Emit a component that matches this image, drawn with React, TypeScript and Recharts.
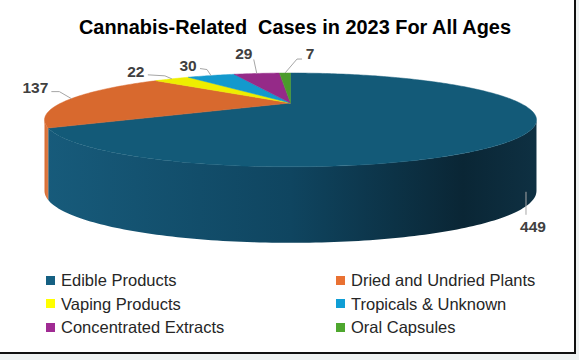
import React from 'react';
import { PieChart, Pie, Legend } from 'recharts';

const CATEGORIES = [
  'Edible Products',
  'Dried and Undried Plants',
  'Vaping Products',
  'Tropicals & Unknown',
  'Concentrated Extracts',
  'Oral Capsules',
];
const CASES = [449, 137, 22, 30, 29, 7];

const COLORS = ['#156082', '#E97132', '#FFFF00', '#0F9ED5', '#A02B93', '#4EA72E'];
const TOP_COLORS = ['#135a78', '#d8692e', '#eeee00', '#1399cd', '#952a88', '#4a9b2c'];

// 3d look: perspective squash of the top face + a wall below it
const TILT = 40.8;
const PERSP = 0.361;

// leader line points + text centre, relative to the rim point at the slice's mid angle
const LABEL_LAYOUT: { line: number[][]; text: number[] }[] = [
  { line: [[-7, 64], [-7, 87]], text: [0, 99] },
  { line: [[0, 0], [-12, -7], [-20, -7]], text: [-36, -11] },
  { line: [[0, 0], [-7, -3], [-24, -4]], text: [-36, -7] },
  { line: [[0, 0], [-4, -6], [-11, -7]], text: [-23, -10] },
  { line: [[0, 0], [-3, -14]], text: [-13, -20] },
  { line: [[0, 0], [12, -14], [17, -14]], text: [25, -20] },
];

const data = CATEGORIES.map((name, i) => ({ name, value: CASES[i] }));

const proj = (cx: number, cy: number, r: number, deg: number) => {
  const a = (deg * Math.PI) / 180;
  const den = 1 + PERSP * Math.sin(a);
  return [cx + (r * Math.cos(a)) / den, cy - (TILT * Math.sin(a)) / den];
};

// wall is a bit taller at the front than at the sides
const depthAt = (deg: number) => 68 + 8 * Math.max(0, -Math.sin((deg * Math.PI) / 180));

const arcPoints = (cx: number, cy: number, r: number, from: number, to: number) => {
  const pts: number[][] = [];
  const steps = Math.max(2, Math.ceil(Math.abs(to - from)));
  for (let i = 0; i <= steps; i++) {
    pts.push(proj(cx, cy, r, from + ((to - from) * i) / steps));
  }
  return pts;
};

const toPath = (pts: number[][]) =>
  pts.map((p, i) => `${i ? 'L' : 'M'}${p[0].toFixed(2)},${p[1].toFixed(2)}`).join(' ') + ' Z';

const Slice3D = (props: any) => {
  const { cx, cy, outerRadius, startAngle, endAngle, midAngle, index } = props;
  const r = outerRadius;
  const visLo = 180 + (Math.asin(PERSP) * 180) / Math.PI;
  const visHi = 360 - (Math.asin(PERSP) * 180) / Math.PI;
  const lo = Math.min(startAngle, endAngle);
  const hi = Math.max(startAngle, endAngle);

  const walls: React.ReactNode[] = [];
  [-360, 0, 360].forEach((shift) => {
    const a = Math.max(lo, visLo + shift);
    const b = Math.min(hi, visHi + shift);
    if (a < b) {
      const steps = Math.max(2, Math.ceil(b - a));
      const top: number[][] = [];
      const bottom: number[][] = [];
      for (let i = 0; i <= steps; i++) {
        const d = a + ((b - a) * i) / steps;
        const p = proj(cx, cy, r, d);
        top.push(p);
        bottom.push([p[0], p[1] + depthAt(d)]);
      }
      walls.push(
        <path key={shift} d={toPath([...top, ...bottom.reverse()])} fill={`url(#wall-${index})`} />
      );
    }
  });

  const face = [[cx, cy], ...arcPoints(cx, cy, r, startAngle, endAngle)];
  const anchor = proj(cx, cy, r, midAngle);
  const lay = LABEL_LAYOUT[index];
  const linePts = lay.line.map((p) => [anchor[0] + p[0], anchor[1] + p[1]]);

  return (
    <g>
      <defs>
        {index === 0 ? (
          <linearGradient id={`wall-${index}`} gradientUnits="userSpaceOnUse" x1={cx - r * 1.07} x2={cx + r * 1.07} y1={0} y2={0}>
            <stop offset="0" stopColor="#175b7b" />
            <stop offset="0.5" stopColor="#0f4560" />
            <stop offset="0.85" stopColor="#0a2635" />
            <stop offset="1" stopColor="#0e3042" />
          </linearGradient>
        ) : (
          <linearGradient id={`wall-${index}`} x1="0" x2="1" y1="0" y2="0">
            <stop offset="0" stopColor={TOP_COLORS[index]} />
            <stop offset="1" stopColor={TOP_COLORS[index]} stopOpacity={0.85} />
          </linearGradient>
        )}
      </defs>
      {walls}
      <path d={toPath(face)} fill={TOP_COLORS[index]} stroke={TOP_COLORS[index]} strokeWidth={0.5} />
      <polyline
        points={linePts.map((p) => p.join(',')).join(' ')}
        fill="none"
        stroke="#a6a6a6"
        strokeWidth={1}
      />
      <text
        x={anchor[0] + lay.text[0]}
        y={anchor[1] + lay.text[1]}
        textAnchor="middle"
        dominantBaseline="central"
        fontFamily="'Liberation Sans', Arial, sans-serif"
        fontWeight="bold"
        fontSize={15.5}
        fill="#404040"
      >
        {props.value}
      </text>
    </g>
  );
};

const LegendGrid = () => (
  <div style={{ position: 'relative', width: 576, height: 72 }}>
    {CATEGORIES.map((name, i) => (
      <div
        key={name}
        style={{
          position: 'absolute',
          left: i % 2 ? 336 : 46,
          top: Math.floor(i / 2) * 23.5,
          height: 24,
          lineHeight: '24px',
          display: 'flex',
          alignItems: 'center',
          fontFamily: "'Liberation Sans', Arial, sans-serif",
          fontSize: 16.5,
          color: '#262626',
          whiteSpace: 'nowrap',
        }}
      >
        <span style={{ width: 9, height: 9, background: COLORS[i], marginRight: 6, display: 'inline-block' }} />
        {name}
      </div>
    ))}
  </div>
);

export default function App() {
  return (
    <div style={{ position: 'absolute', left: 0, top: 0, width: 579, height: 360, background: '#eef2f2' }}>
      <div
        style={{
          position: 'absolute',
          left: 0,
          top: 0,
          width: 574,
          height: 352,
          background: '#ffffff',
          borderRight: '2.5px solid #111',
          borderBottom: '2.5px solid #111',
        }}
      >
        <svg width={576} height={50} style={{ position: 'absolute', left: 0, top: 0 }}>
          <text
            x={295}
            y={34}
            textAnchor="middle"
            fontFamily="'Liberation Sans Narrow', 'Arial Narrow', 'Liberation Sans', sans-serif"
            fontWeight="bold"
            fontSize={19.5}
            fill="#000"
            textLength={432}
            lengthAdjust="spacingAndGlyphs"
            style={{ whiteSpace: 'pre' }}
          >
            {'Cannabis-Related  Cases in 2023 For All Ages'}
          </text>
        </svg>
        <div style={{ position: 'absolute', left: 0, top: 0 }}>
          <PieChart width={574} height={352} margin={{ top: 0, right: 0, bottom: 0, left: 0 }}>
            <Pie
              data={data}
              dataKey="value"
              nameKey="name"
              cx={290.5}
              cy={103}
              outerRadius={229.4}
              startAngle={90}
              endAngle={-270}
              fill="none"
              stroke="none"
              labelLine={false}
              label={Slice3D}
              isAnimationActive={false}
            />
            <Legend
              content={LegendGrid}
              wrapperStyle={{ left: 0, top: 268, width: 576, bottom: 'auto' }}
            />
          </PieChart>
        </div>
      </div>
    </div>
  );
}
